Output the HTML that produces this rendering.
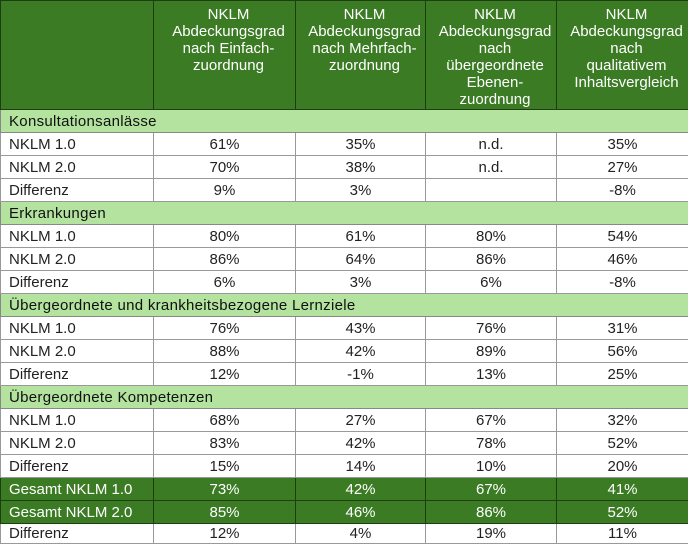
<!DOCTYPE html>
<html><head><meta charset="utf-8"><style>
body{margin:0;width:688px;height:543px;overflow:hidden;background:#fff;font-family:"Liberation Sans",sans-serif;}
table{border-collapse:collapse;table-layout:fixed;width:688px;font-size:15px;color:#222;}
td{border:1px solid #999;padding:0 0 0 8px;white-space:nowrap;overflow:hidden;}
td.c{text-align:center;padding:0;}
tr{height:23px;}
tr.h{height:109px;}
tr.h td{background:#3b7b24;color:#fff;text-align:center;vertical-align:top;padding-top:5px;line-height:17px;border-color:#1e3e12;white-space:normal;}
tr.s td{background:#b3e39f;color:#111;border-color:#888;letter-spacing:0.3px;}
tr.g td{background:#3b7b24;color:#fff;border-color:#1e3e12;}
tr.last{height:20px;}
</style></head><body>
<table>
<colgroup><col style="width:153px"><col style="width:142px"><col style="width:130px"><col style="width:131px"><col style="width:132px"></colgroup>
<tr class="h"><td></td><td>NKLM<br>Abdeckungsgrad<br>nach Einfach-<br>zuordnung</td><td>NKLM<br>Abdeckungsgrad<br>nach Mehrfach-<br>zuordnung</td><td>NKLM<br>Abdeckungsgrad<br>nach<br>übergeordnete<br>Ebenen-<br>zuordnung</td><td>NKLM<br>Abdeckungsgrad<br>nach<br>qualitativem<br>Inhaltsvergleich</td></tr>
<tr class="s"><td colspan="5">Konsultationsanlässe</td></tr>
<tr><td>NKLM 1.0</td><td class="c">61%</td><td class="c">35%</td><td class="c">n.d.</td><td class="c">35%</td></tr>
<tr><td>NKLM 2.0</td><td class="c">70%</td><td class="c">38%</td><td class="c">n.d.</td><td class="c">27%</td></tr>
<tr><td>Differenz</td><td class="c">9%</td><td class="c">3%</td><td class="c"></td><td class="c">-8%</td></tr>
<tr class="s"><td colspan="5">Erkrankungen</td></tr>
<tr><td>NKLM 1.0</td><td class="c">80%</td><td class="c">61%</td><td class="c">80%</td><td class="c">54%</td></tr>
<tr><td>NKLM 2.0</td><td class="c">86%</td><td class="c">64%</td><td class="c">86%</td><td class="c">46%</td></tr>
<tr><td>Differenz</td><td class="c">6%</td><td class="c">3%</td><td class="c">6%</td><td class="c">-8%</td></tr>
<tr class="s"><td colspan="5">Übergeordnete und krankheitsbezogene Lernziele</td></tr>
<tr><td>NKLM 1.0</td><td class="c">76%</td><td class="c">43%</td><td class="c">76%</td><td class="c">31%</td></tr>
<tr><td>NKLM 2.0</td><td class="c">88%</td><td class="c">42%</td><td class="c">89%</td><td class="c">56%</td></tr>
<tr><td>Differenz</td><td class="c">12%</td><td class="c">-1%</td><td class="c">13%</td><td class="c">25%</td></tr>
<tr class="s"><td colspan="5">Übergeordnete Kompetenzen</td></tr>
<tr><td>NKLM 1.0</td><td class="c">68%</td><td class="c">27%</td><td class="c">67%</td><td class="c">32%</td></tr>
<tr><td>NKLM 2.0</td><td class="c">83%</td><td class="c">42%</td><td class="c">78%</td><td class="c">52%</td></tr>
<tr><td>Differenz</td><td class="c">15%</td><td class="c">14%</td><td class="c">10%</td><td class="c">20%</td></tr>
<tr class="g"><td>Gesamt NKLM 1.0</td><td class="c">73%</td><td class="c">42%</td><td class="c">67%</td><td class="c">41%</td></tr>
<tr class="g"><td>Gesamt NKLM 2.0</td><td class="c">85%</td><td class="c">46%</td><td class="c">86%</td><td class="c">52%</td></tr>
<tr class="last"><td>Differenz</td><td class="c">12%</td><td class="c">4%</td><td class="c">19%</td><td class="c">11%</td></tr>
</table>
</body></html>
